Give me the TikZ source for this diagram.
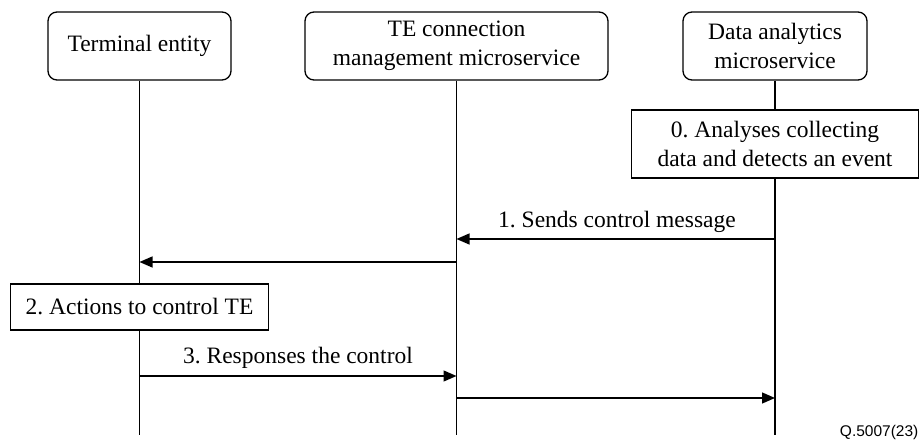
\documentclass[tikz,border=0pt]{standalone}
\usepackage{fontspec}
\setmainfont{Liberation Serif}
\setsansfont{Liberation Sans}
\usetikzlibrary{arrows.meta}
\frenchspacing
\begin{document}
\begin{tikzpicture}[x=1pt,y=-1pt,line width=1.3pt,
  entity/.style={draw,rounded corners=9pt,align=center,font=\fontsize{23.5}{29}\selectfont,inner sep=0pt},
  actbox/.style={draw,align=center,font=\fontsize{23.5}{29}\selectfont,inner sep=0pt},
  msg/.style={-{Triangle[length=13pt,width=11pt]}},
  lbl/.style={font=\fontsize{23.5}{29}\selectfont,inner sep=0pt}]
\useasboundingbox (0,0) rectangle (921,443);
% entities
\node[entity,minimum width=183pt,minimum height=68pt] (te) at (139.5,46) {Terminal entity};
\node[entity,minimum width=303pt,minimum height=68pt] (cm) at (456.5,46) {TE connection\\management microservice};
\node[entity,minimum width=184pt,minimum height=68pt] (da) at (775,46) {Data analytics\\microservice};
% action boxes
\node[actbox,minimum width=287pt,minimum height=68pt] (a0) at (775,144) {0. Analyses collecting\\data and detects an event};
\node[actbox,minimum width=258pt,minimum height=46pt] (a2) at (139.5,307) {2. Actions to control TE};
% lifeline ends and message points
\coordinate (teE) at (139.5,435);
\coordinate (cmE) at (456.5,435);
\coordinate (daE) at (775,435);
\coordinate (m1s) at (775,239); \coordinate (m1e) at (456.5,239);
\coordinate (m2s) at (456.5,262); \coordinate (m2e) at (139.5,262);
\coordinate (m3s) at (139.5,376); \coordinate (m3e) at (456.5,376);
\coordinate (m4s) at (456.5,398); \coordinate (m4e) at (775,398);
% lifelines
\draw (te.south) -- (a2.north);
\draw (a2.south) -- (teE);
\draw (cm.south) -- (cmE);
\draw (da.south) -- (a0.north);
\draw (a0.south) -- (daE);
% messages
\draw[msg] (m1s) -- (m1e);
\draw[msg] (m2s) -- (m2e);
\draw[msg] (m3s) -- (m3e);
\draw[msg] (m4s) -- (m4e);
\node[lbl] (l1) at (617,222) {1. Sends control message};
\node[lbl] (l3) at (298,358) {3. Responses the control};
\node[font=\sffamily\fontsize{15.5}{17}\selectfont,inner sep=0pt,anchor=east] (fig) at (919,432) {Q.5007(23)};
\end{tikzpicture}
\end{document}
